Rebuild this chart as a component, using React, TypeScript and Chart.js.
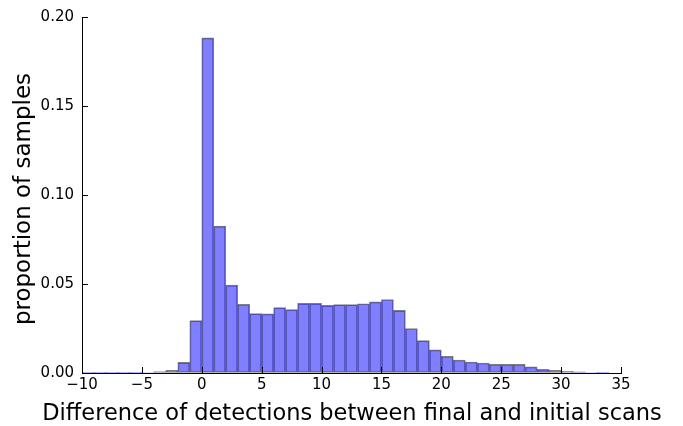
import React, { useEffect, useRef } from 'react';
import { Chart, registerables } from 'chart.js';

Chart.register(...registerables);

// Histogram bins (left edges, width 1)
const binEdges = [
  -10, -9, -8, -7, -6, -5, -4, -3, -2, -1, 0, 1, 2, 3, 4, 5, 6, 7, 8, 9, 10, 11,
  12, 13, 14, 15, 16, 17, 18, 19, 20, 21, 22, 23, 24, 25, 26, 27, 28, 29, 30, 31,
  32, 33,
];
const proportions = [
  0.0001, 0.0001, 0.0001, 0.0001, 0.0001, 0.0003, 0.0008, 0.0015, 0.006, 0.0294,
  0.1883, 0.0825, 0.0494, 0.0386, 0.0334, 0.0332, 0.0367, 0.0356, 0.0391, 0.0391,
  0.038, 0.0384, 0.0384, 0.0389, 0.04, 0.0413, 0.0352, 0.025, 0.0182, 0.013,
  0.0094, 0.0073, 0.0062, 0.0056, 0.0049, 0.0049, 0.0049, 0.0034, 0.0021, 0.0015,
  0.0009, 0.0006, 0.0003, 0.0002,
];
const xTickValues = [-10, -5, 0, 5, 10, 15, 20, 25, 30, 35];
const yTickValues = [0, 0.05, 0.1, 0.15, 0.2];
const xTitle = 'Difference of detections between final and initial scans';
const yTitle = 'proportion of samples';

const FONT = 'DejaVu Sans';

const innerTicks = {
  id: 'innerTicks',
  afterDraw(chart: any) {
    const { ctx, chartArea, scales } = chart;
    const len = 6;
    ctx.save();
    ctx.strokeStyle = '#000';
    ctx.lineWidth = 1;
    scales.x.ticks.forEach((t: any) => {
      const px = Math.round(scales.x.getPixelForValue(t.value)) + 0.5;
      ctx.beginPath();
      ctx.moveTo(px, chartArea.bottom);
      ctx.lineTo(px, chartArea.bottom - len);
      ctx.stroke();
    });
    scales.y.ticks.forEach((t: any) => {
      const py = Math.round(scales.y.getPixelForValue(t.value)) + 0.5;
      ctx.beginPath();
      ctx.moveTo(chartArea.left, py);
      ctx.lineTo(chartArea.left + len, py);
      ctx.stroke();
    });
    // Axis titles (drawn without width compression)
    ctx.fillStyle = '#000';
    ctx.textAlign = 'center';
    ctx.textBaseline = 'alphabetic';
    ctx.font = `22.5px "${FONT}"`;
    ctx.fillText(xTitle, (chartArea.left + chartArea.right) / 2 + 0.5, 420);
    ctx.font = `23px "${FONT}"`;
    ctx.translate(30, (chartArea.top + chartArea.bottom) / 2 + 4);
    ctx.rotate(-Math.PI / 2);
    ctx.fillText(yTitle, 0, 0);
    ctx.restore();
  },
};

export default function App() {
  const ref = useRef<HTMLCanvasElement>(null);

  useEffect(() => {
    if (!ref.current) return;
    const data = binEdges.map((e, i) => ({ x: e + 0.5, y: proportions[i] }));
    const chart = new Chart(ref.current, {
      type: 'bar',
      data: {
        datasets: [
          {
            data,
            backgroundColor: 'rgba(0,0,255,0.5)',
            borderColor: 'rgba(0,0,0,0.5)',
            borderWidth: 1,
            borderSkipped: false,
            barPercentage: 1,
            categoryPercentage: 1,
          } as any,
        ],
      },
      options: {
        responsive: false,
        animation: false,
        events: [],
        layout: { padding: { top: 15, right: 62, left: 0, bottom: 0 } },
        plugins: { legend: { display: false }, tooltip: { enabled: false } },
        scales: {
          x: {
            type: 'linear',
            min: -10,
            max: 35,
            offset: false,
            afterBuildTicks: (s: any) => {
              s.ticks = xTickValues.map((v) => ({ value: v }));
            },
            afterFit: (s: any) => {
              s.height = 53;
            },
            grid: { display: true, drawOnChartArea: false, drawTicks: false },
            border: { display: true, color: '#000', width: 1 },
            ticks: {
              padding: 3,
              color: '#000',
              font: { family: FONT, size: 15 },
              maxRotation: 0,
              autoSkip: false,
              callback: (v: any) => String(v).replace('-', '\u2212'),
            },
            title: { display: false },
          },
          y: {
            type: 'linear',
            min: 0,
            max: 0.2,
            afterBuildTicks: (s: any) => {
              s.ticks = yTickValues.map((v) => ({ value: v }));
            },
            afterFit: (s: any) => {
              s.width = 82;
            },
            grid: { display: true, drawOnChartArea: false, drawTicks: false },
            border: { display: true, color: '#000', width: 1 },
            ticks: {
              padding: 8,
              color: '#000',
              font: { family: FONT, size: 15 },
              callback: (v: any) => Number(v).toFixed(2),
            },
            title: { display: false },
          },
        },
      },
      plugins: [innerTicks],
    });
    return () => chart.destroy();
  }, []);

  return (
    <div style={{ position: 'fixed', left: 0, top: 0, width: 683, height: 426, background: '#fff' }}>
      <canvas ref={ref} width={683} height={426} />
    </div>
  );
}
